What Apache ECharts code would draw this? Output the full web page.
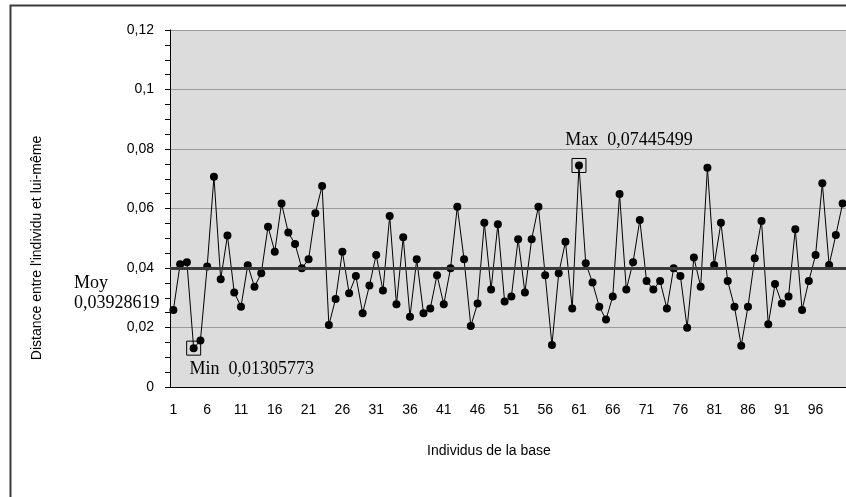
<!DOCTYPE html>
<html>
<head>
<meta charset="utf-8">
<title>Distance individu</title>
<script src="https://cdn.jsdelivr.net/npm/echarts@6/dist/echarts.min.js"></script>
<style>
  html, body { margin: 0; padding: 0; background: #fff; }
  #main { width: 846px; height: 497px; }
</style>
</head>
<body>
<div id="main"></div>
<script>
// valeurs (individus 1..100)
var individus = [];
for (var k = 1; k <= 100; k++) individus.push(String(k));

var distances = [
  0.0259, 0.0413, 0.0419, 0.01305773, 0.0156, 0.0405, 0.0707, 0.0362, 0.0509, 0.0318,
  0.0270, 0.0409, 0.0337, 0.0382, 0.0539, 0.0455, 0.0617, 0.0519, 0.0481, 0.0399,
  0.0429, 0.0584, 0.0676, 0.0208, 0.0296, 0.0455, 0.0315, 0.0373, 0.0248, 0.0341,
  0.0444, 0.0324, 0.0575, 0.0278, 0.0503, 0.0236, 0.0429, 0.0248, 0.0264, 0.0376,
  0.0278, 0.0399, 0.0606, 0.0429, 0.0205, 0.0281, 0.0552, 0.0328, 0.0547, 0.0287,
  0.0304, 0.0497, 0.0318, 0.0497, 0.0606, 0.0376, 0.0141, 0.0382, 0.0488, 0.0264,
  0.07445499, 0.0416, 0.0351, 0.0270, 0.0227, 0.0304, 0.0649, 0.0328, 0.0419, 0.0561,
  0.0356, 0.0328, 0.0356, 0.0264, 0.0399, 0.0373, 0.0199, 0.0435, 0.0337, 0.0737,
  0.0410, 0.0552, 0.0356, 0.0270, 0.0139, 0.0270, 0.0433, 0.0558, 0.0211, 0.0346,
  0.0281, 0.0304, 0.0530, 0.0259, 0.0356, 0.0444, 0.0685, 0.0410, 0.0511, 0.0617
];

var moyenne = 0.03928619;
var minIdx = 3, minVal = 0.01305773;
var maxIdx = 60, maxVal = 0.07445499;

function virgule(v) {
  return String(v).replace('.', ',');
}

var myChart = echarts.init(document.getElementById('main'));

var option = {
  animation: false,
  backgroundColor: '#fff',
  grid: {
    left: 170, top: 30, width: 680, height: 357,
    show: true, backgroundColor: '#dcdcdc', borderWidth: 0
  },
  xAxis: {
    type: 'category',
    data: individus,
    boundaryGap: true,
    axisLine: { lineStyle: { color: '#000', width: 1 } },
    axisTick: { interval: 1, length: 5, lineStyle: { color: '#000' } },
    axisLabel: {
      interval: 4, margin: 16, color: '#000',
      fontFamily: 'Liberation Sans', fontSize: 14
    },
    splitLine: { show: false }
  },
  yAxis: {
    type: 'value',
    min: 0, max: 0.12, interval: 0.02,
    axisLine: { show: true, lineStyle: { color: '#000', width: 1 } },
    axisTick: { show: true, length: 5, lineStyle: { color: '#000' } },
    minorTick: { show: true, splitNumber: 4, length: 5, lineStyle: { color: '#000' } },
    axisLabel: {
      margin: 16, color: '#000', fontFamily: 'Liberation Sans', fontSize: 14,
      formatter: function (v) { return virgule(+v.toFixed(2)); }
    },
    splitLine: { show: true, lineStyle: { color: '#9a9a9a', width: 1 } }
  },
  series: [{
    type: 'line',
    data: distances,
    symbol: 'circle',
    symbolSize: 8,
    showAllSymbol: true,
    lineStyle: { color: '#000', width: 1 },
    itemStyle: { color: '#000' },
    markLine: {
      silent: true,
      symbol: 'none',
      label: { show: false },
      lineStyle: { color: '#3a3a3a', width: 3, type: 'solid' },
      data: [{ yAxis: moyenne }]
    },
    markPoint: {
      silent: true,
      symbol: 'rect',
      symbolSize: 14,
      itemStyle: { color: 'rgba(0,0,0,0)', borderColor: '#000', borderWidth: 1 },
      label: {
        show: true, color: '#000',
        fontFamily: 'Liberation Serif', fontSize: 18
      },
      data: [
        { coord: [minIdx, minVal],
          label: { formatter: 'Min  ' + virgule(minVal), position: 'inside', offset: [58, 21] } },
        { coord: [maxIdx, maxVal],
          label: { formatter: 'Max  ' + virgule(maxVal), position: 'inside', offset: [50, -25] } }
      ]
    }
  }],
  graphic: [
    { type: 'rect', shape: { x: 10.5, y: 5.5, width: 900, height: 600 },
      style: { fill: 'none', stroke: '#000', lineWidth: 1 }, silent: true },
    { type: 'text', x: 37, y: 248, rotation: Math.PI / 2,
      style: { text: "Distance entre l'individu et lui-même", fill: '#000',
        font: '14px "Liberation Sans"', align: 'center', verticalAlign: 'middle' } },
    { type: 'text', x: 489, y: 451,
      style: { text: 'Individus de la base', fill: '#000', font: '14px "Liberation Sans"',
        align: 'center', verticalAlign: 'middle' } },
    { type: 'text', x: 74, y: 283,
      style: { text: 'Moy', fill: '#000', font: '18px "Liberation Serif"', verticalAlign: 'middle' } },
    { type: 'text', x: 74, y: 303,
      style: { text: virgule(moyenne), fill: '#000', font: '18px "Liberation Serif"', verticalAlign: 'middle' } }
  ]
};

myChart.setOption(option);

// trait de rappel vers la ligne de moyenne
var bout = myChart.convertToPixel({ gridIndex: 0 }, [0, moyenne]);
myChart.setOption({
  graphic: [
    { type: 'line', shape: { x1: 133, y1: 287, x2: 170, y2: bout[1] },
      style: { stroke: '#3a3a3a', lineWidth: 2 }, silent: true }
  ]
});
</script>
</body>
</html>
